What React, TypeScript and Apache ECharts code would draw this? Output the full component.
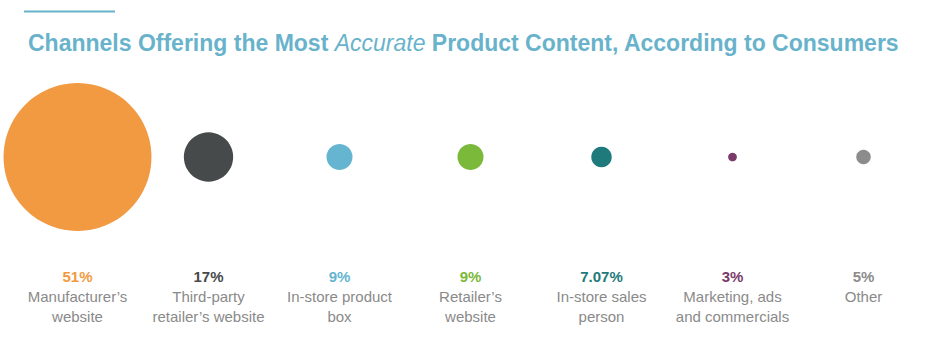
import React, { useEffect, useRef } from "react";
import * as echarts from "echarts";

const categories = [
  "Manufacturer’s\nwebsite",
  "Third-party\nretailer’s website",
  "In-store product\nbox",
  "Retailer’s\nwebsite",
  "In-store sales\nperson",
  "Marketing, ads\nand commercials",
  "Other",
];
const values = [51, 17, 9, 9, 7.07, 3, 5];
const valueLabels = ["51%", "17%", "9%", "9%", "7.07%", "3%", "5%"];
const colors = ["#F29A42", "#474A4A", "#66B5D0", "#7AB93A", "#1F7A7C", "#7A3B6B", "#8C8C8C"];

const TITLE_COLOR = "#68B3CB";
const FONT = "'Liberation Sans', Arial, sans-serif";

export default function App() {
  const ref = useRef<HTMLDivElement>(null);
  useEffect(() => {
    document.body.style.margin = "0";
    const chart = echarts.init(ref.current!, undefined, { renderer: "svg" });
    const rich: Record<string, any> = {
      n: { color: "#8A8A8A", fontSize: 15, lineHeight: 20, fontFamily: FONT },
    };
    colors.forEach((c, i) => {
      rich["p" + i] = { color: c, fontSize: 15, fontWeight: "bold", lineHeight: 20, fontFamily: FONT };
    });
    chart.setOption({
      animation: false,
      title: {
        left: 23,
        top: 26,
        text: "{a|Channels Offering the Most }{i|Accurate}{a| Product Content, According to Consumers}",
        textStyle: {
          rich: {
            a: { color: TITLE_COLOR, fontSize: 23, fontWeight: "bold", fontFamily: FONT },
            i: { color: TITLE_COLOR, fontSize: 23, fontWeight: "normal", fontStyle: "italic", fontFamily: FONT },
          },
        },
      },
      graphic: [
        {
          type: "line",
          shape: { x1: 24, y1: 11.5, x2: 115, y2: 11.5 },
          style: { stroke: TITLE_COLOR, lineWidth: 2 },
        },
      ],
      grid: { left: 12, right: 0, top: 52, bottom: 93 },
      xAxis: {
        type: "category",
        data: categories,
        axisLine: { show: false },
        axisTick: { show: false },
        splitLine: { show: false },
        axisLabel: {
          interval: 0,
          margin: 4,
          verticalAlign: "top",
          formatter: (v: string, i: number) => {
            const lines = v.split("\n").map((l) => `{n|${l}}`).join("\n");
            return `{p${i}|${valueLabels[i]}}\n${lines}`;
          },
          rich,
        },
      },
      yAxis: { type: "value", min: -1, max: 1, show: false },
      series: [
        {
          type: "scatter",
          data: values.map((v, i) => ({ value: [i, 0], raw: v, itemStyle: { color: colors[i] } })),
          symbol: "circle",
          symbolSize: (_: any, p: any) => values[p.dataIndex] * 2.9,
          itemStyle: { opacity: 1 },
        },
      ],
    });
    return () => chart.dispose();
  }, []);
  return <div ref={ref} style={{ width: 929, height: 355 }} />;
}
